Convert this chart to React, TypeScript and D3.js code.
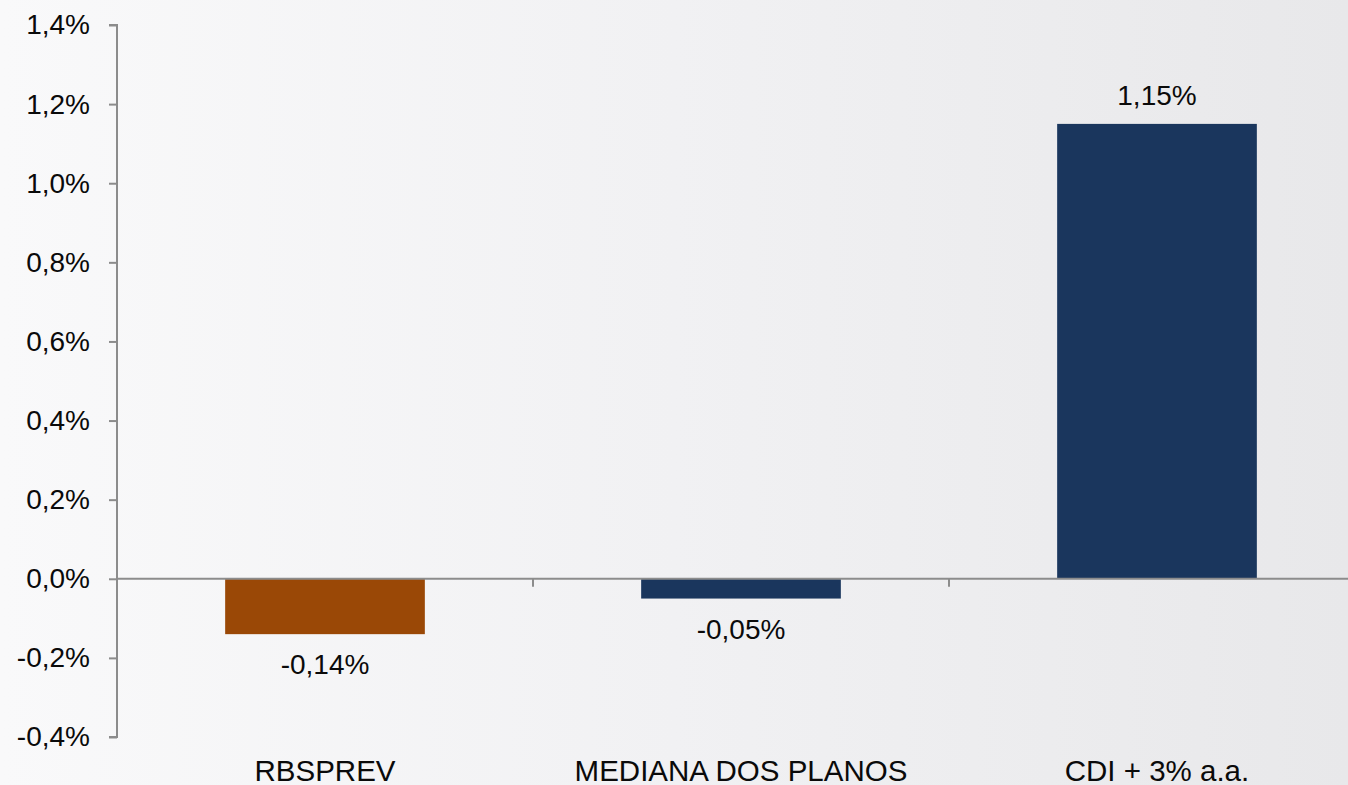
import React, { useRef, useEffect } from 'react';
import * as d3 from 'd3';

const categories = ['RBSPREV', 'MEDIANA DOS PLANOS', 'CDI + 3% a.a.'];
const values = [-0.14, -0.05, 1.15];
const barColors = ['#9a4806', '#1a365d', '#1a365d'];
const yTicks = [-0.4, -0.2, 0, 0.2, 0.4, 0.6, 0.8, 1.0, 1.2, 1.4];

const fmt = (v: number, digits: number) => v.toFixed(digits).replace('.', ',') + '%';

const App: React.FC = () => {
  const svgRef = useRef<SVGSVGElement>(null);
  const width = 1348;
  const height = 785;

  useEffect(() => {
    document.body.style.margin = '0';
    if (!svgRef.current) return;

    d3.select(svgRef.current).selectAll('*').remove();

    const svg = d3.select(svgRef.current).attr('width', width).attr('height', height);
    const font = '"Liberation Sans", Arial, sans-serif';

    // Background gradient
    const defs = svg.append('defs');
    const grad = defs
      .append('linearGradient')
      .attr('id', 'bg')
      .attr('x1', '0%')
      .attr('x2', '100%')
      .attr('y1', '0%')
      .attr('y2', '0%');
    grad.append('stop').attr('offset', '0%').attr('stop-color', '#f9f9fa');
    grad.append('stop').attr('offset', '50%').attr('stop-color', '#f1f1f3');
    grad.append('stop').attr('offset', '100%').attr('stop-color', '#e8e8ea');
    svg.append('rect').attr('width', width).attr('height', height).attr('fill', 'url(#bg)');

    // Scales
    const x = d3.scaleBand<string>().domain(categories).range([117, 1365]).padding(0);
    const y = d3.scaleLinear().domain([-0.4, 1.4]).range([737, 25]);
    const barW = x.bandwidth() * 0.48;

    // Y axis
    const yAxis = svg
      .append('g')
      .attr('transform', 'translate(117,0)')
      .call(
        d3
          .axisLeft(y)
          .tickValues(yTicks)
          .tickSize(8)
          .tickPadding(19)
          .tickFormat((d) => fmt(+d, 1))
      );
    yAxis.select('.domain').attr('stroke', '#8c8c8c').attr('stroke-width', 2).attr('d', `M-8,${y(1.4)}H0V${y(-0.4)}H-8`);
    yAxis.selectAll('.tick line').attr('stroke', '#8c8c8c').attr('stroke-width', 2);
    yAxis
      .selectAll('.tick text')
      .style('font-family', font)
      .style('font-size', '28px')
      .attr('fill', '#0a0a0a');

    // Bars
    svg
      .selectAll('.bar')
      .data(values)
      .enter()
      .append('rect')
      .attr('class', 'bar')
      .attr('x', (_, i) => (x(categories[i]) as number) + (x.bandwidth() - barW) / 2)
      .attr('y', (d) => y(Math.max(0, d)))
      .attr('width', barW)
      .attr('height', (d) => Math.abs(y(d) - y(0)))
      .attr('fill', (_, i) => barColors[i]);

    // Zero line
    svg
      .append('line')
      .attr('x1', 117)
      .attr('x2', width)
      .attr('y1', y(0))
      .attr('y2', y(0))
      .attr('stroke', '#8c8c8c')
      .attr('stroke-width', 2);

    // Category tick marks on zero line
    svg
      .selectAll('.cat-tick')
      .data(categories.slice(1))
      .enter()
      .append('line')
      .attr('x1', (d) => x(d) as number)
      .attr('x2', (d) => x(d) as number)
      .attr('y1', y(0))
      .attr('y2', y(0) + 8)
      .attr('stroke', '#8c8c8c')
      .attr('stroke-width', 2);

    // Value labels
    svg
      .selectAll('.val')
      .data(values)
      .enter()
      .append('text')
      .attr('class', 'val')
      .attr('x', (_, i) => (x(categories[i]) as number) + x.bandwidth() / 2)
      .attr('y', (d) => (d >= 0 ? y(d) - 19 : y(d) + 40))
      .attr('text-anchor', 'middle')
      .style('font-family', font)
      .style('font-size', '28px')
      .attr('fill', '#0a0a0a')
      .text((d) => fmt(d, 2));

    // Category labels (cut by the bottom edge, as in the original)
    svg
      .selectAll('.cat')
      .data(categories)
      .enter()
      .append('text')
      .attr('class', 'cat')
      .attr('x', (d) => (x(d) as number) + x.bandwidth() / 2)
      .attr('y', 781)
      .attr('text-anchor', 'middle')
      .style('font-family', font)
      .style('font-size', '29.5px')
      .attr('fill', '#0a0a0a')
      .text((d) => d);
  }, []);

  return (
    <div>
      <svg ref={svgRef} style={{ display: 'block' }}></svg>
    </div>
  );
};

export default App;
